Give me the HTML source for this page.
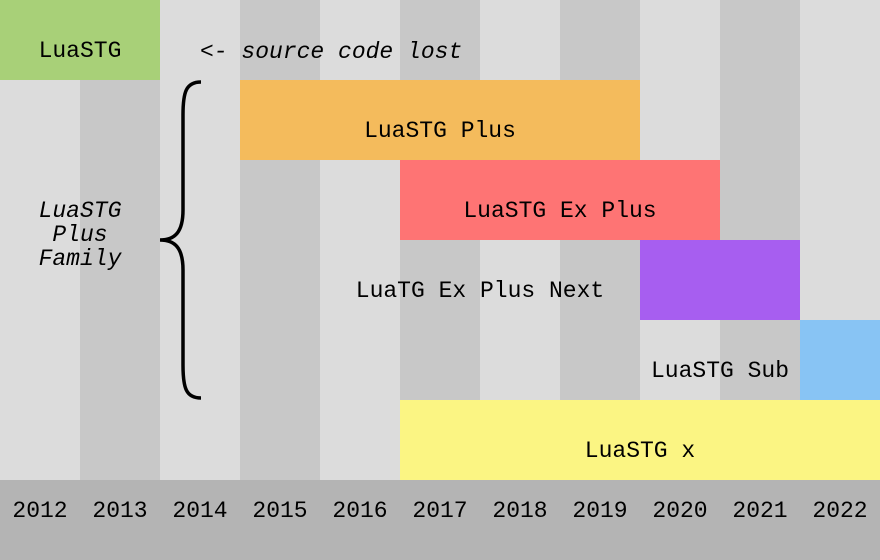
<!DOCTYPE html>
<html><head><meta charset="utf-8"><style>
body{margin:0;width:880px;height:560px;overflow:hidden;position:relative;background:#dcdcdc;font-family:"Liberation Mono","DejaVu Sans Mono",monospace;font-size:23px;color:#000}
div{position:absolute}
.c{top:0;height:480px;width:80px}
.b{display:flex;align-items:center;justify-content:center;padding-top:22px;box-sizing:border-box}
.y{top:498px;width:80px;text-align:center}
</style></head><body>
<div class="c" style="left:0;background:#dcdcdc"></div>
<div class="c" style="left:80px;background:#c8c8c8"></div>
<div class="c" style="left:160px;background:#dcdcdc"></div>
<div class="c" style="left:240px;background:#c8c8c8"></div>
<div class="c" style="left:320px;background:#dcdcdc"></div>
<div class="c" style="left:400px;background:#c8c8c8"></div>
<div class="c" style="left:480px;background:#dcdcdc"></div>
<div class="c" style="left:560px;background:#c8c8c8"></div>
<div class="c" style="left:640px;background:#dcdcdc"></div>
<div class="c" style="left:720px;background:#c8c8c8"></div>
<div class="c" style="left:800px;background:#dcdcdc"></div>
<div style="left:0;top:480px;width:880px;height:80px;background:#b4b4b4"></div>

<div class="b" style="left:0;top:0;width:160px;height:80px;background:#a8d078">LuaSTG</div>
<div class="b" style="left:240px;top:80px;width:400px;height:80px;background:#f4bb5c">LuaSTG Plus</div>
<div class="b" style="left:400px;top:160px;width:320px;height:80px;background:#fe7474">LuaSTG Ex Plus</div>
<div style="left:640px;top:240px;width:160px;height:80px;background:#a75ef0"></div>
<div class="b" style="left:320px;top:240px;width:320px;height:80px">LuaTG Ex Plus Next</div>
<div style="left:800px;top:320px;width:80px;height:80px;background:#88c4f4"></div>
<div class="b" style="left:640px;top:320px;width:160px;height:80px">LuaSTG Sub</div>
<div class="b" style="left:400px;top:400px;width:480px;height:80px;background:#fbf583">LuaSTG x</div>

<div style="left:200px;top:39px;font-style:italic;white-space:pre">&lt;- source code lost</div>
<div style="left:0;top:199px;width:160px;text-align:center;font-style:italic;line-height:24px">LuaSTG<br>Plus<br>Family</div>

<svg style="position:absolute;left:0;top:0" width="880" height="560">
<path d="M201,82 C186,82 183,92 183,115 L183,210 C183,232 175,240 160,240 C175,240 183,248 183,270 L183,365 C183,388 186,398 201,398" fill="none" stroke="#000" stroke-width="3.5"/>
</svg>

<div class="y" style="left:0">2012</div>
<div class="y" style="left:80px">2013</div>
<div class="y" style="left:160px">2014</div>
<div class="y" style="left:240px">2015</div>
<div class="y" style="left:320px">2016</div>
<div class="y" style="left:400px">2017</div>
<div class="y" style="left:480px">2018</div>
<div class="y" style="left:560px">2019</div>
<div class="y" style="left:640px">2020</div>
<div class="y" style="left:720px">2021</div>
<div class="y" style="left:800px">2022</div>
</body></html>
